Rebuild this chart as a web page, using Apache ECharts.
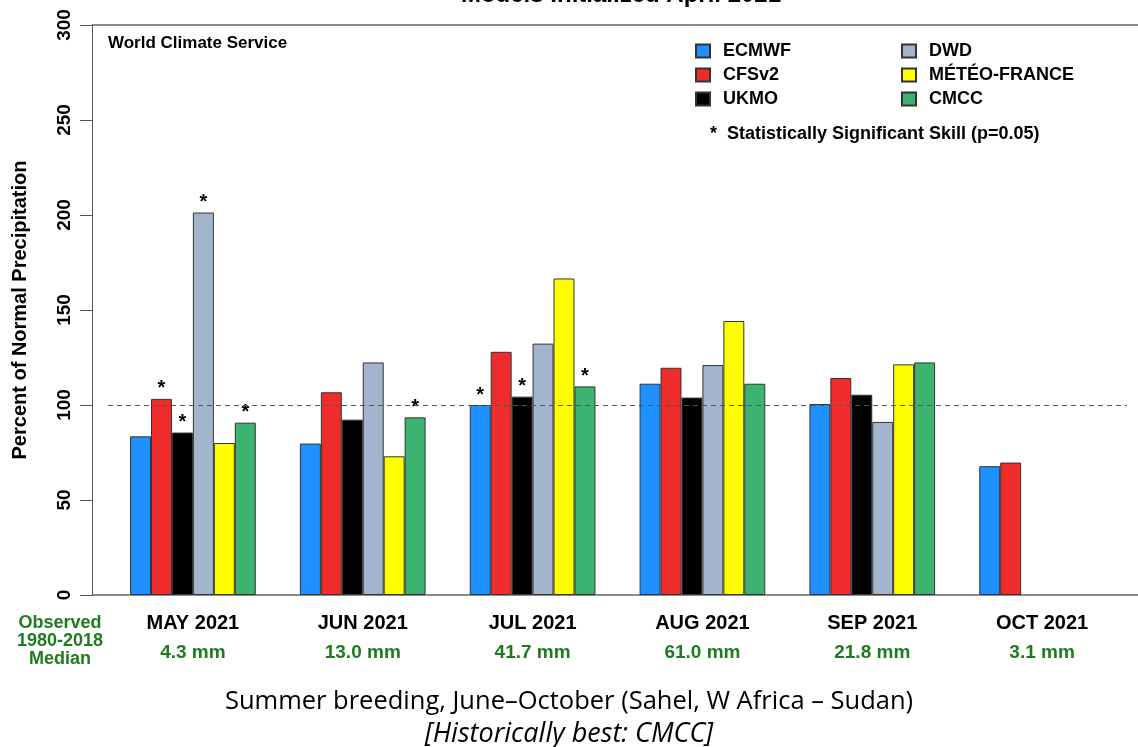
<!DOCTYPE html>
<html>
<head>
<meta charset="utf-8">
<script src="https://cdn.jsdelivr.net/npm/echarts@6/dist/echarts.min.js"></script>
<style>
  html, body { margin: 0; padding: 0; background: #fff; }
  #main { width: 1138px; height: 747px; }
</style>
</head>
<body>
<div id="main"></div>
<script>
// data
var months = ['MAY 2021', 'JUN 2021', 'JUL 2021', 'AUG 2021', 'SEP 2021', 'OCT 2021'];
var medians = ['4.3 mm', '13.0 mm', '41.7 mm', '61.0 mm', '21.8 mm', '3.1 mm'];
var models = ['ECMWF', 'CFSv2', 'UKMO', 'DWD', 'MÉTÉO-FRANCE', 'CMCC'];
var colors = ['#1E90FF', '#EE2C2C', '#000000', '#A2B5CD', '#FFFF00', '#3CB371'];

var ecmwf = [83.5, 79.7, 100.0, 111.2, 100.5, 67.8];
var cfsv2 = [103.2, 106.7, 128.0, 119.6, 114.2, 69.7];
var ukmo  = [85.5, 92.3, 104.4, 103.9, 105.4, null];
var dwd   = [201.3, 122.4, 132.3, 121.0, 91.1, null];
var meteo = [80.0, 73.0, 166.6, 144.2, 121.4, null];
var cmcc  = [90.7, 93.5, 109.8, 111.2, 122.4, null];

// 1 = statistically significant skill (star)
var sigEcmwf = [0, 0, 1, 0, 0, 0];
var sigCfsv2 = [1, 0, 0, 0, 0, 0];
var sigUkmo  = [1, 0, 1, 0, 0, 0];
var sigDwd   = [1, 0, 0, 0, 0, 0];
var sigMeteo = [0, 0, 0, 0, 0, 0];
var sigCmcc  = [1, 1, 1, 0, 0, 0];

var values = [ecmwf, cfsv2, ukmo, dwd, meteo, cmcc];
var sigs = [sigEcmwf, sigCfsv2, sigUkmo, sigDwd, sigMeteo, sigCmcc];

var font = '"Liberation Sans", Arial, sans-serif';
var green = '#1E7B1E';

var series = models.map(function (name, i) {
  var s = {
    name: name,
    type: 'bar',
    barGap: '0%',
    barCategoryGap: '26%',
    itemStyle: { color: colors[i], borderColor: '#333', borderWidth: 1 },
    label: {
      show: false, position: 'top', distance: 0, formatter: '*',
      fontFamily: font, fontWeight: 'bold', fontSize: 20, color: '#000'
    },
    data: values[i].map(function (v, j) {
      return { value: v, label: { show: sigs[i][j] === 1 } };
    })
  };
  if (i === 0) {
    s.markLine = {
      silent: true, symbol: 'none', label: { show: false },
      lineStyle: { type: [5, 4], color: '#555', width: 1 },
      data: [{ yAxis: 100 }]
    };
  }
  return s;
});

var legendText = { fontFamily: font, fontWeight: 'bold', fontSize: 18, color: '#000', padding: [0, 0, 0, 8], lineHeight: 16 };

var chart = echarts.init(document.getElementById('main'));
chart.setOption({
  animation: false,
  title: {
    text: 'Models Initialized April 2021',
    left: 616, top: -22, textAlign: 'center',
    textStyle: { fontFamily: font, fontWeight: 'bold', fontSize: 24, color: '#000' }
  },
  legend: [
    {
      data: models.slice(0, 3), orient: 'vertical', left: 690, top: 37,
      icon: 'rect', itemWidth: 14, itemHeight: 13, itemGap: 6,
      textStyle: legendText
    },
    {
      data: models.slice(3), orient: 'vertical', left: 896, top: 37,
      icon: 'rect', itemWidth: 14, itemHeight: 13, itemGap: 6,
      textStyle: legendText
    }
  ],
  grid: { left: 108, right: 11, top: 25, bottom: 152 },
  xAxis: {
    type: 'category',
    data: months,
    axisLine: { show: false },
    axisTick: { show: false },
    axisLabel: {
      interval: 0, margin: 13,
      formatter: function (v, idx) { return '{m|' + v + '}\n{d|' + medians[idx] + '}'; },
      rich: {
        m: { fontFamily: font, fontWeight: 'bold', fontSize: 20, color: '#000', lineHeight: 30 },
        d: { fontFamily: font, fontWeight: 'bold', fontSize: 19, color: green, lineHeight: 30 }
      }
    }
  },
  yAxis: {
    type: 'value', min: 0, max: 300, interval: 50, offset: 16,
    name: 'Percent of Normal Precipitation',
    nameLocation: 'middle', nameGap: 62,
    nameTextStyle: { fontFamily: font, fontWeight: 'bold', fontSize: 20, color: '#000' },
    axisLine: { show: true, lineStyle: { color: '#555', width: 1 } },
    axisTick: { show: true, length: 12, lineStyle: { color: '#555' } },
    splitLine: { show: false },
    axisLabel: { rotate: 90, margin: 18, fontFamily: font, fontWeight: 'bold', fontSize: 19, color: '#000' }
  },
  graphic: [
    { type: 'line', shape: { x1: 92, y1: 25, x2: 1138, y2: 25 }, style: { stroke: '#666', lineWidth: 1.5 } },
    { type: 'line', shape: { x1: 92, y1: 595, x2: 1138, y2: 595 }, style: { stroke: '#666', lineWidth: 1.5 } },
    { type: 'text', left: 108, top: 35, style: { text: 'World Climate Service', font: 'bold 17px ' + font, fill: '#000' } },
    { type: 'text', left: 710, top: 125, style: { text: '*  Statistically Significant Skill (p=0.05)', font: 'bold 18px ' + font, fill: '#000' } },
    { type: 'text', x: 60, y: 614, style: { text: 'Observed\n1980-2018\nMedian', font: 'bold 18px ' + font, fill: green, align: 'center', lineHeight: 18 } },
    { type: 'text', left: 'center', top: 689, style: { text: 'Summer breeding, June\u2013October (Sahel, W Africa \u2013 Sudan)', font: '25.5px "Open Sans", sans-serif', fill: '#000' } },
    { type: 'text', left: 'center', top: 721, style: { text: '[Historically best: CMCC]', font: 'italic 27px "Open Sans", sans-serif', fill: '#000' } }
  ],
  series: series
});
</script>
</body>
</html>
